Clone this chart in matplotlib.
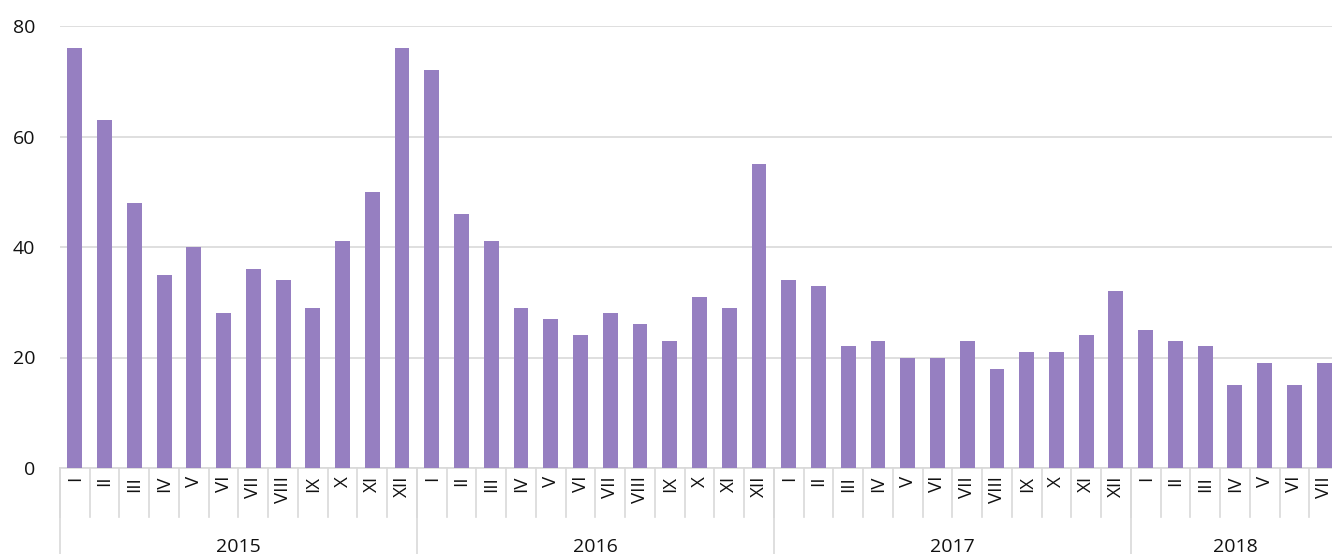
import matplotlib
matplotlib.use('Agg')
import matplotlib.pyplot as plt
import matplotlib.transforms as mtransforms

# data
years = ['2015', '2016', '2017', '2018']
months = ['I', 'II', 'III', 'IV', 'V', 'VI', 'VII', 'VIII', 'IX', 'X', 'XI', 'XII']
v2015 = [76, 63, 48, 35, 40, 28, 36, 34, 29, 41, 50, 76]
v2016 = [72, 46, 41, 29, 27, 24, 28, 26, 23, 31, 29, 55]
v2017 = [34, 33, 22, 23, 20, 20, 23, 18, 21, 21, 24, 32]
v2018 = [25, 23, 22, 15, 19, 15, 19]
series = [v2015, v2016, v2017, v2018]

plt.rcParams['font.family'] = ['Open Sans', 'DejaVu Sans']

values = []
labels = []
for s in series:
    values += s
    labels += months[:len(s)]
n = len(values)

fig = plt.figure(figsize=(13.32, 5.54), dpi=100)
ax = fig.add_axes([60/1332, 86/554, 1279/1332, 442/554])

ax.bar(range(n), values, width=0.5, color='#967fc1', zorder=3)
ax.set_xlim(-0.5, n - 0.5)
ax.set_ylim(0, 80)
ax.set_yticks([0, 20, 40, 60, 80])
ax.tick_params(axis='y', length=0, labelsize=14, pad=18, labelcolor='#111111')
ax.set_xticks([])
ax.grid(axis='y', color='#d9d9d9', linewidth=1.2, zorder=0)
for sp in ['top', 'right', 'left']:
    ax.spines[sp].set_visible(False)
ax.spines['bottom'].set_color('#d9d9d9')
ax.spines['bottom'].set_linewidth(1.2)

tr = mtransforms.blended_transform_factory(ax.transData, ax.transAxes)
gc = '#d9d9d9'

# month labels and small separators
for i in range(n):
    ax.text(i, -0.018, labels[i], rotation=90, ha='center', va='top',
            fontsize=13.5, transform=tr, color='#111111')
    ax.plot([i - 0.5, i - 0.5], [0, -0.111], color=gc, lw=1.2,
            transform=tr, clip_on=False)

# year labels and long separators
start = 0
for y, s in zip(years, series):
    ax.plot([start - 0.5, start - 0.5], [0, -0.2], color=gc, lw=1.2,
            transform=tr, clip_on=False)
    end = start + len(s)
    ax.text((start + end - 1) / 2.0, -0.178, y, ha='center', va='center',
            fontsize=14, transform=tr, color='#111111')
    start = end

fig.savefig('out.png', dpi=100)
